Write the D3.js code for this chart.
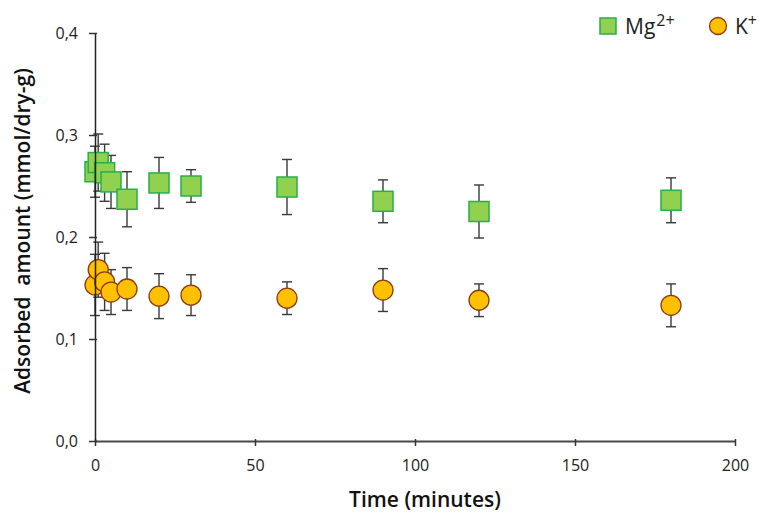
<!DOCTYPE html>
<html>
<head>
<meta charset="utf-8">
<script src="https://cdn.jsdelivr.net/npm/d3@7"></script>
<style>
  html, body { margin: 0; padding: 0; background: #fff; }
  svg { display: block; font-family: "Open Sans", Lato, sans-serif; }
  .tick text { font-size: 16px; fill: #222; font-family: "Open Sans", sans-serif; }
</style>
</head>
<body>
<div id="chart"></div>
<script>
// time (minutes) for each sample
const TIMES = [0, 1, 3, 5, 10, 20, 30, 60, 90, 120, 180];

// Mg2+ adsorbed amount and error
const MG_VALUES = [0.264, 0.273, 0.263, 0.254, 0.237, 0.253, 0.250, 0.249, 0.235, 0.225, 0.236];
const MG_ERRORS = [0.025, 0.028, 0.028, 0.026, 0.027, 0.025, 0.016, 0.027, 0.021, 0.026, 0.022];

// K+ adsorbed amount and error
const K_VALUES = [0.153, 0.168, 0.156, 0.146, 0.149, 0.142, 0.143, 0.140, 0.148, 0.138, 0.133];
const K_ERRORS = [0.030, 0.027, 0.028, 0.022, 0.021, 0.022, 0.020, 0.016, 0.021, 0.016, 0.021];

const X_TICKS = [0, 50, 100, 150, 200];
const Y_TICKS = [0, 0.1, 0.2, 0.3, 0.4];

const W = 760, H = 513;
const M = { top: 33, right: 25, bottom: 72, left: 95 };
const innerW = W - M.left - M.right, innerH = H - M.top - M.bottom;

const svg = d3.select('#chart').append('svg').attr('width', W).attr('height', H);
const g = svg.append('g').attr('transform', `translate(${M.left},${M.top})`);

const x = d3.scaleLinear().domain([0, 200]).range([0, innerW]);
const y = d3.scaleLinear().domain([0, 0.4]).range([innerH, 0]);

const series = [
  { key: 'mg', values: MG_VALUES, errors: MG_ERRORS, shape: 'square', fill: '#92d050', stroke: '#22b14c' },
  { key: 'k', values: K_VALUES, errors: K_ERRORS, shape: 'circle', fill: '#ffc000', stroke: '#8b3a0f' },
];

const S = 20; // marker size
const CAP = 5;

series.forEach(s => {
  const pts = TIMES.map((t, i) => ({ t, v: s.values[i], e: s.errors[i] }));
  const layer = g.append('g').attr('class', s.key);

  // error bars under markers
  const eb = layer.append('g').selectAll('g').data(pts).join('g')
    .attr('stroke', '#3a3a3a').attr('stroke-width', 1.4).attr('fill', 'none');
  eb.append('line')
    .attr('x1', d => x(d.t)).attr('x2', d => x(d.t))
    .attr('y1', d => y(d.v + d.e)).attr('y2', d => y(d.v - d.e));
  eb.append('line')
    .attr('x1', d => x(d.t) - CAP).attr('x2', d => x(d.t) + CAP)
    .attr('y1', d => y(d.v + d.e)).attr('y2', d => y(d.v + d.e));
  eb.append('line')
    .attr('x1', d => x(d.t) - CAP).attr('x2', d => x(d.t) + CAP)
    .attr('y1', d => y(d.v - d.e)).attr('y2', d => y(d.v - d.e));

  if (s.shape === 'square') {
    layer.append('g').selectAll('rect').data(pts).join('rect')
      .attr('x', d => x(d.t) - S / 2).attr('y', d => y(d.v) - S / 2)
      .attr('width', S).attr('height', S)
      .attr('fill', s.fill).attr('stroke', s.stroke).attr('stroke-width', 1.5);
  } else {
    layer.append('g').selectAll('circle').data(pts).join('circle')
      .attr('cx', d => x(d.t)).attr('cy', d => y(d.v)).attr('r', S / 2)
      .attr('fill', s.fill).attr('stroke', s.stroke).attr('stroke-width', 1.3);
  }
});

// axes on top, ticks crossing the line
const xAxis = g.append('g').attr('transform', `translate(0,${innerH})`)
  .call(d3.axisBottom(x).tickValues(X_TICKS).tickSizeInner(5).tickSizeOuter(0).tickPadding(14));
xAxis.selectAll('.tick line').attr('y1', -2).attr('y2', 5);
const yAxis = g.append('g')
  .call(d3.axisLeft(y).tickValues(Y_TICKS).tickSizeInner(6).tickSizeOuter(0).tickPadding(11)
    .tickFormat(d => d3.format('.1f')(d).replace('.', ',')));
yAxis.selectAll('.tick line').attr('x1', -6).attr('x2', 2);

xAxis.select('.domain').attr('stroke', '#4a4a4a').attr('stroke-width', 2.2);
xAxis.selectAll('.tick line').attr('stroke', '#333').attr('stroke-width', 1.5);
yAxis.select('.domain').attr('stroke', '#222').attr('stroke-width', 1.5);
yAxis.selectAll('.tick line').attr('stroke', '#333').attr('stroke-width', 1.5);

svg.append('text')
  .attr('x', 425).attr('y', 507)
  .attr('text-anchor', 'middle').attr('font-size', 21).attr('font-weight', 600).attr('fill', '#111')
  .text('Time (minutes)');

svg.append('text')
  .attr('transform', `translate(30,231) rotate(-90)`)
  .attr('text-anchor', 'middle').attr('font-size', 21).attr('font-weight', 600).attr('fill', '#111')
  .attr('xml:space', 'preserve')
  .text('Adsorbed  amount (mmol/dry-g)');

// legend
const leg = svg.append('g');
leg.append('rect').attr('x', 600).attr('y', 18).attr('width', 16).attr('height', 16)
  .attr('fill', '#92d050').attr('stroke', '#22b14c').attr('stroke-width', 1.5);
const mgText = leg.append('text').attr('x', 625).attr('y', 34).attr('font-size', 21).attr('fill', '#222');
mgText.append('tspan').text('Mg');
mgText.append('tspan').attr('font-size', 16).attr('dy', -8).attr('dx', 1).text('2+');
leg.append('circle').attr('cx', 718).attr('cy', 26).attr('r', 8.5)
  .attr('fill', '#ffc000').attr('stroke', '#8b3a0f').attr('stroke-width', 1.3);
const kText = leg.append('text').attr('x', 735).attr('y', 34).attr('font-size', 21).attr('fill', '#222');
kText.append('tspan').text('K');
kText.append('tspan').attr('font-size', 16).attr('dy', -8).text('+');
</script>
</body>
</html>
